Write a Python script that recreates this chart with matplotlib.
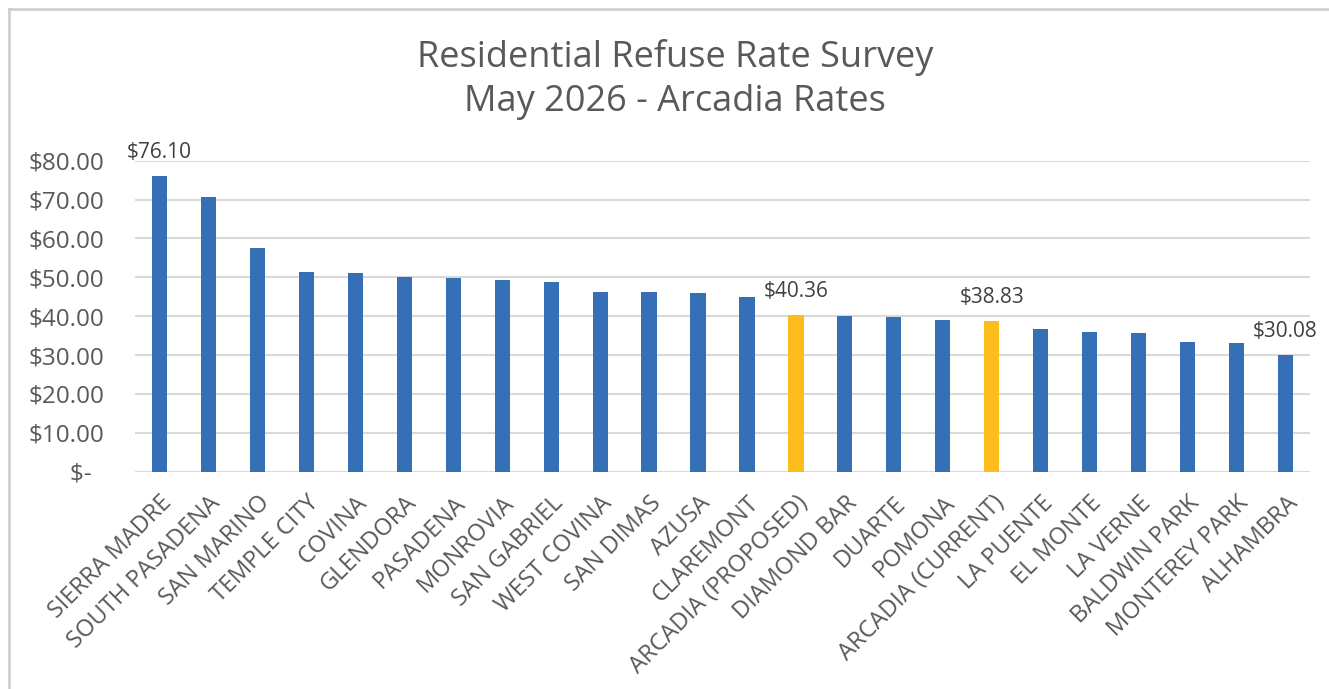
import matplotlib
matplotlib.use("Agg")
import matplotlib.pyplot as plt
from matplotlib.lines import Line2D
from matplotlib.ticker import FuncFormatter

cities = ["SIERRA MADRE", "SOUTH PASADENA", "SAN MARINO", "TEMPLE CITY", "COVINA",
          "GLENDORA", "PASADENA", "MONROVIA", "SAN GABRIEL", "WEST COVINA",
          "SAN DIMAS", "AZUSA", "CLAREMONT", "ARCADIA (PROPOSED)", "DIAMOND BAR",
          "DUARTE", "POMONA", "ARCADIA (CURRENT)", "LA PUENTE", "EL MONTE",
          "LA VERNE", "BALDWIN PARK", "MONTEREY PARK", "ALHAMBRA"]
rates = [76.10, 70.70, 57.50, 51.40, 51.20, 50.10, 49.80, 49.40, 48.80, 46.30,
         46.10, 46.00, 45.00, 40.36, 40.10, 39.70, 38.95, 38.83, 36.60, 36.00,
         35.55, 33.25, 33.05, 30.08]
highlight = ["ARCADIA (PROPOSED)", "ARCADIA (CURRENT)"]
labeled = ["SIERRA MADRE", "ARCADIA (PROPOSED)", "ARCADIA (CURRENT)", "ALHAMBRA"]

blue = "#3570B7"
gold = "#FDBD1D"
grey = "#595959"

plt.rcParams['font.family'] = ['Open Sans', 'DejaVu Sans']

fig = plt.figure(figsize=(13.29, 6.89), dpi=100)
ax = fig.add_axes([0.1016, 0.3154, 0.8841, 0.4514])

colors = [gold if c in highlight else blue for c in cities]
x = range(len(cities))
bars = ax.bar(x, rates, width=0.31, color=colors, zorder=3)

for b, c, r in zip(bars, cities, rates):
    if c in labeled:
        ax.annotate("${:.2f}".format(r), (b.get_x() + b.get_width() / 2, r),
                    xytext=(0, 13), textcoords="offset points", ha="center",
                    va="baseline", fontsize=15, color="#404040", clip_on=False)

ax.set_xlim(-0.5, len(cities) - 0.5)
ax.set_ylim(0, 80)
ax.set_yticks(range(0, 81, 10))
ax.yaxis.set_major_formatter(FuncFormatter(lambda v, p: "$-  " if v == 0 else "${:.2f}".format(v)))
ax.grid(axis="y", color="#D9D9D9", linewidth=1.5, zorder=0)
for s in ax.spines.values():
    s.set_visible(False)
ax.tick_params(axis="y", length=0, pad=22, labelsize=17.5, labelcolor=grey)
ax.tick_params(axis="x", length=0, pad=14, labelsize=17, labelcolor=grey)
ax.set_xticks(list(x))
ax.set_xticklabels(cities, rotation=45, ha="right", rotation_mode="anchor")

fig.text(0.508, 0.884, "Residential Refuse Rate Survey\nMay 2026 - Arcadia Rates",
         ha="center", va="center", fontsize=26, color=grey, linespacing=1.3)

# chart area border (top and left visible)
fig.add_artist(Line2D([9 / 1329, 1], [1 - 9 / 689, 1 - 9 / 689], color="#D0D0D0", lw=2,
                      transform=fig.transFigure))
fig.add_artist(Line2D([9 / 1329, 9 / 1329], [0, 1 - 9 / 689], color="#D0D0D0", lw=2,
                      transform=fig.transFigure))

fig.savefig("out.png", dpi=100)
